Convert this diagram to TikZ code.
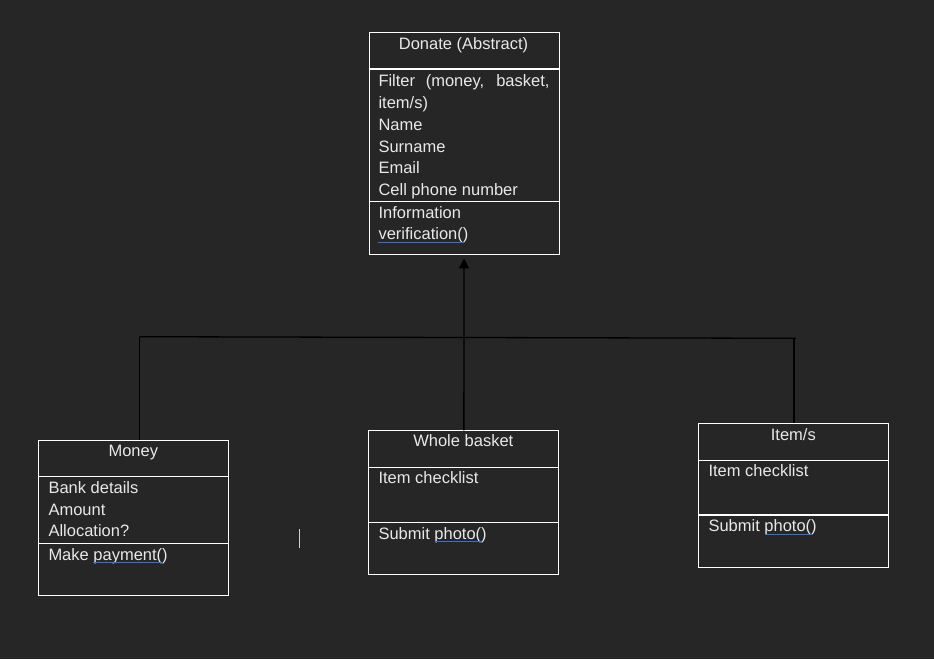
\documentclass[tikz,border=0pt]{standalone}
\usepackage{fontspec}
\setmainfont{Liberation Sans}
\usetikzlibrary{arrows.meta}
\definecolor{bg}{HTML}{262626}
\definecolor{fg}{HTML}{E8E8E8}
\definecolor{uline}{HTML}{3A6FD8}
\definecolor{cursor}{HTML}{D0D0D0}
\begin{document}
\begin{tikzpicture}[x=1pt,y=-1pt,
  box/.style={draw=white, line width=1.1pt, inner sep=0pt, anchor=north west},
  sepline/.style={draw=white, line width=1.1pt},
  txt/.style={text=fg, font=\fontsize{16.5}{20}\selectfont, inner sep=0pt, anchor=base west},
  ttl/.style={txt, anchor=base},
  conn/.style={draw=black, line width=1.3pt},
  spell/.style={draw=uline, line width=1.2pt}]
\fill[bg] (0,0) rectangle (934,659);
\useasboundingbox (0,0) rectangle (934,659);

% Donate (Abstract)
\node[box, minimum width=190pt, minimum height=222pt] (donate) at (368.5,32.3) {};
\draw[sepline] (368.5,69) -- (558.5,69);
\draw[sepline] (368.5,201.3) -- (558.5,201.3);
\node[ttl] (donT) at (463.5,49) {Donate (Abstract)};
\node[txt] (don1) at (378.3,86) {\makebox[171pt][s]{Filter (money, basket,}};
\node[txt] (don2) at (378.3,108) {item/s)};
\node[txt] (don3) at (378.3,130) {Name};
\node[txt] (don4) at (378.3,152) {Surname};
\node[txt] (don5) at (378.3,173.5) {Email};
\node[txt] (don6) at (378.3,195.3) {Cell phone number};
\node[txt] (don7) at (378.3,218) {Information};
\node[txt] (don8) at (378.3,239.5) {verification()};
\draw[spell] (378.3,242.5) -- (463.3,242.5);

% Money
\node[box, minimum width=190pt, minimum height=155.5pt] (money) at (38.3,439.7) {};
\draw[sepline] (38.3,476.3) -- (228.3,476.3);
\draw[sepline] (38.3,543.3) -- (228.3,543.3);
\node[ttl] (monT) at (133.3,456.7) {Money};
\node[txt] (mon1) at (48.3,493.3) {Bank details};
\node[txt] (mon2) at (48.3,515) {Amount};
\node[txt] (mon3) at (48.3,536.7) {Allocation?};
\node[txt] (mon4) at (48.3,560) {Make payment()};
\draw[spell] (93.3,562.7) -- (163.3,562.7);

% Whole basket
\node[box, minimum width=190pt, minimum height=144pt] (basket) at (368.3,430.3) {};
\draw[sepline] (368.3,467.3) -- (558.3,467.3);
\draw[sepline] (368.3,522.3) -- (558.3,522.3);
\node[ttl] (basT) at (463.3,446.7) {Whole basket};
\node[txt] (bas1) at (378.3,483.3) {Item checklist};
\node[txt] (bas2) at (378.3,539) {Submit photo()};
\draw[spell] (435,541.7) -- (481.7,541.7);

% Item/s
\node[box, minimum width=190pt, minimum height=144pt] (items) at (698.3,423.3) {};
\draw[sepline] (698.3,460.3) -- (888.3,460.3);
\draw[sepline] (698.3,515) -- (888.3,515);
\node[ttl] (itmT) at (793.3,440) {Item/s};
\node[txt] (itm1) at (708.3,476.7) {Item checklist};
\node[txt] (itm2) at (708.3,531.7) {Submit photo()};
\draw[spell] (765,534.3) -- (811.7,534.3);

% connectors
\coordinate (busL) at (139.5,336.7);
\coordinate (busR) at (796,338.3);
\draw[conn] (busL) -- (busR);
\draw[conn] (busL) -- (busL |- money.north);
\draw[conn] (items.north |- busR) -- (items.north);
\draw[conn, -{Triangle[width=10pt,length=10pt]}, shorten >=3pt] (basket.north) -- (donate.south);

% text cursor
\draw[cursor, line width=1pt] (299.3,529) -- (299.3,548);
\end{tikzpicture}
\end{document}
